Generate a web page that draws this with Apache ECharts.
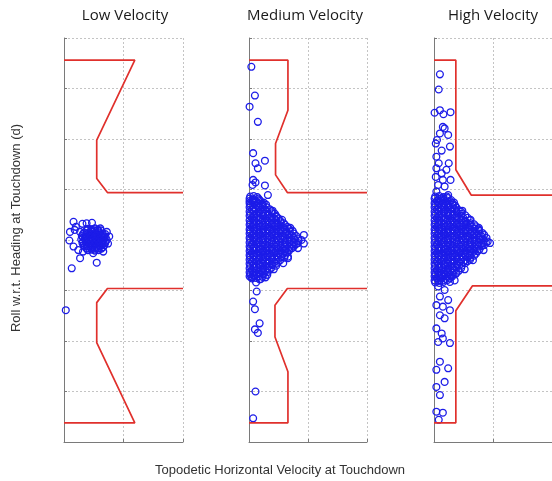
<!DOCTYPE html>
<html>
<head>
<meta charset="utf-8">
<script src="https://cdn.jsdelivr.net/npm/echarts@6/dist/echarts.min.js"></script>
<style>
  html, body { margin: 0; padding: 0; background: #ffffff; }
  #chart { width: 552px; height: 481px; }
</style>
</head>
<body>
<div id="chart"></div>
<script>
// Panel titles
const panelTitles = ['Low Velocity', 'Medium Velocity', 'High Velocity'];

// Touchdown samples: [horizontal velocity, roll w.r.t. heading]
const lowPoints = [
  [0.16,0.36],[0.20,0.26],[0.31,0.32],[0.38,0.33],[0.47,0.34],[0.10,0.16],[0.18,0.20],[0.27,0.16],
  [0.09,-0.01],[0.16,-0.13],[0.24,-0.20],[0.32,-0.23],[0.27,-0.36],[0.13,-0.56],[0.55,-0.45],
  [0.49,-0.26],[0.66,-0.23],[0.74,-0.07],[0.76,0.07],[0.72,0.16],[0.61,0.23],[0.03,-1.39],
  [0.40,0.22],[0.46,0.21],[0.52,0.23],[0.57,0.20],
  [0.34,0.15],[0.41,0.14],[0.47,0.16],[0.53,0.14],[0.59,0.15],[0.65,0.13],
  [0.30,0.08],[0.36,0.07],[0.43,0.09],[0.49,0.08],[0.56,0.07],[0.62,0.09],[0.68,0.07],
  [0.29,0.01],[0.35,0.02],[0.42,0.00],[0.48,0.01],[0.55,0.02],[0.61,0.00],[0.67,0.01],[0.72,0.00],
  [0.31,-0.06],[0.37,-0.05],[0.44,-0.07],[0.50,-0.06],[0.57,-0.05],[0.63,-0.07],[0.69,-0.06],
  [0.35,-0.13],[0.41,-0.12],[0.48,-0.14],[0.54,-0.13],[0.60,-0.12],[0.66,-0.14],
  [0.40,-0.20],[0.46,-0.19],[0.52,-0.21],[0.58,-0.20],
  [0.38,0.19],[0.45,0.18],[0.51,0.19],[0.58,0.18],[0.62,0.19],
  [0.32,0.12],[0.38,0.11],[0.45,0.12],[0.51,0.11],[0.58,0.12],[0.64,0.11],[0.69,0.12],
  [0.32,0.05],[0.38,0.04],[0.45,0.05],[0.51,0.04],[0.58,0.05],[0.64,0.04],[0.70,0.05],
  [0.32,-0.03],[0.38,-0.02],[0.45,-0.03],[0.51,-0.02],[0.58,-0.03],[0.64,-0.02],[0.70,-0.03],
  [0.33,-0.10],[0.38,-0.09],[0.45,-0.10],[0.51,-0.09],[0.58,-0.10],[0.64,-0.09],[0.68,-0.10],
  [0.38,-0.17],[0.45,-0.16],[0.51,-0.17],[0.58,-0.16],[0.63,-0.17]
];

const mediumPoints = [
  [0.04,3.43],[0.10,2.86],[0.01,2.64],[0.15,2.34],[0.07,1.72],[0.11,1.52],[0.27,1.57],[0.15,1.42],
  [0.07,1.19],[0.11,1.14],[0.27,1.08],[0.06,1.09],[0.32,0.89],[0.07,0.79],[0.18,0.79],
  [0.13,-1.02],[0.07,-1.22],[0.10,-1.37],[0.18,-1.65],[0.10,-1.77],[0.15,-1.84],[0.11,-3.00],[0.07,-3.53],
  [0.93,0.10],[0.93,-0.07],[0.66,-0.36],[0.58,-0.46],[0.04,-0.74],[0.18,-0.78],[0.46,0.46],
  [0.25,0.74],[0.40,0.58],[0.56,0.40],[0.70,0.24],[0.83,-0.16],[0.66,-0.33],[0.42,-0.58],[0.28,-0.74],[0.12,-0.84],
  [0.02,0.86],[0.08,0.87],[0.14,0.85],
  [0.01,0.77],[0.06,0.78],[0.12,0.76],[0.19,0.77],
  [0.02,0.69],[0.09,0.70],[0.16,0.68],[0.23,0.69],[0.29,0.70],
  [0.05,0.60],[0.12,0.61],[0.20,0.59],[0.27,0.60],[0.35,0.61],
  [0.02,0.52],[0.09,0.51],[0.17,0.53],[0.24,0.52],[0.32,0.51],[0.39,0.53],[0.44,0.52],
  [0.05,0.43],[0.13,0.44],[0.20,0.42],[0.28,0.43],[0.35,0.44],[0.43,0.42],[0.50,0.43],
  [0.02,0.34],[0.09,0.35],[0.17,0.33],[0.24,0.34],[0.32,0.35],[0.39,0.33],[0.47,0.34],[0.54,0.35],[0.59,0.33],
  [0.05,0.26],[0.13,0.25],[0.20,0.27],[0.28,0.26],[0.35,0.25],[0.43,0.27],[0.50,0.26],[0.58,0.25],[0.65,0.26],
  [0.02,0.17],[0.09,0.18],[0.17,0.16],[0.24,0.17],[0.32,0.18],[0.39,0.16],[0.47,0.17],[0.54,0.18],[0.62,0.16],[0.69,0.17],[0.74,0.18],
  [0.05,0.09],[0.13,0.08],[0.20,0.10],[0.28,0.09],[0.35,0.08],[0.43,0.10],[0.50,0.09],[0.58,0.08],[0.65,0.10],[0.73,0.09],[0.80,0.08],
  [0.02,0.00],[0.09,0.01],[0.17,-0.01],[0.24,0.00],[0.32,0.01],[0.39,-0.01],[0.47,0.00],[0.54,0.01],[0.62,-0.01],[0.69,0.00],[0.77,0.01],[0.84,-0.01],[0.89,0.00],
  [0.05,-0.09],[0.13,-0.08],[0.20,-0.10],[0.28,-0.09],[0.35,-0.08],[0.43,-0.10],[0.50,-0.09],[0.58,-0.08],[0.65,-0.10],[0.73,-0.09],[0.80,-0.08],
  [0.02,-0.17],[0.09,-0.16],[0.17,-0.18],[0.24,-0.17],[0.32,-0.16],[0.39,-0.18],[0.47,-0.17],[0.54,-0.16],[0.62,-0.18],[0.69,-0.17],[0.73,-0.16],
  [0.05,-0.26],[0.13,-0.27],[0.20,-0.25],[0.28,-0.26],[0.35,-0.27],[0.43,-0.25],[0.50,-0.26],[0.58,-0.27],[0.65,-0.25],
  [0.02,-0.34],[0.09,-0.33],[0.17,-0.35],[0.24,-0.34],[0.32,-0.33],[0.39,-0.35],[0.47,-0.34],[0.54,-0.33],[0.60,-0.35],
  [0.05,-0.43],[0.13,-0.42],[0.20,-0.44],[0.28,-0.43],[0.35,-0.42],[0.43,-0.44],[0.50,-0.43],
  [0.02,-0.51],[0.09,-0.52],[0.17,-0.50],[0.24,-0.51],[0.32,-0.52],[0.39,-0.50],[0.46,-0.51],
  [0.05,-0.60],[0.13,-0.59],[0.20,-0.61],[0.28,-0.60],[0.35,-0.59],
  [0.02,-0.68],[0.09,-0.69],[0.17,-0.67],[0.24,-0.68],[0.31,-0.69],
  [0.05,-0.76],[0.12,-0.75],[0.20,-0.77],
  [0.01,0.82],[0.08,0.81],[0.16,0.82],
  [0.01,0.73],[0.08,0.74],[0.16,0.73],[0.23,0.72],
  [0.01,0.65],[0.08,0.64],[0.16,0.65],[0.23,0.66],[0.30,0.65],
  [0.01,0.56],[0.08,0.57],[0.16,0.56],[0.23,0.55],[0.31,0.56],[0.38,0.57],
  [0.01,0.48],[0.08,0.47],[0.16,0.48],[0.23,0.49],[0.31,0.48],[0.38,0.47],[0.46,0.48],
  [0.01,0.39],[0.08,0.40],[0.16,0.39],[0.23,0.38],[0.31,0.39],[0.38,0.40],[0.46,0.39],[0.53,0.38],
  [0.01,0.30],[0.08,0.31],[0.16,0.30],[0.23,0.29],[0.31,0.30],[0.38,0.31],[0.46,0.30],[0.53,0.29],[0.61,0.30],
  [0.01,0.21],[0.08,0.22],[0.16,0.21],[0.23,0.20],[0.31,0.21],[0.38,0.22],[0.46,0.21],[0.53,0.20],[0.61,0.21],[0.68,0.22],
  [0.01,0.13],[0.08,0.12],[0.16,0.13],[0.23,0.14],[0.31,0.13],[0.38,0.12],[0.46,0.13],[0.53,0.14],[0.61,0.13],[0.68,0.12],[0.76,0.13],
  [0.01,0.04],[0.08,0.05],[0.16,0.04],[0.23,0.03],[0.31,0.04],[0.38,0.05],[0.46,0.04],[0.53,0.03],[0.61,0.04],[0.68,0.05],[0.76,0.04],[0.83,0.03],
  [0.01,-0.05],[0.08,-0.04],[0.16,-0.05],[0.23,-0.06],[0.31,-0.05],[0.38,-0.04],[0.46,-0.05],[0.53,-0.06],[0.61,-0.05],[0.68,-0.04],[0.76,-0.05],[0.83,-0.06],
  [0.01,-0.13],[0.08,-0.14],[0.16,-0.13],[0.23,-0.12],[0.31,-0.13],[0.38,-0.14],[0.46,-0.13],[0.53,-0.12],[0.61,-0.13],[0.68,-0.14],[0.76,-0.13],
  [0.01,-0.22],[0.08,-0.21],[0.16,-0.22],[0.23,-0.23],[0.31,-0.22],[0.38,-0.21],[0.46,-0.22],[0.53,-0.23],[0.61,-0.22],[0.68,-0.21],
  [0.01,-0.30],[0.08,-0.31],[0.16,-0.30],[0.23,-0.29],[0.31,-0.30],[0.38,-0.31],[0.46,-0.30],[0.53,-0.29],[0.61,-0.30],
  [0.01,-0.39],[0.08,-0.38],[0.16,-0.39],[0.23,-0.40],[0.31,-0.39],[0.38,-0.38],[0.46,-0.39],[0.53,-0.40],
  [0.01,-0.47],[0.08,-0.48],[0.16,-0.47],[0.23,-0.46],[0.31,-0.47],[0.38,-0.48],[0.46,-0.47],
  [0.01,-0.56],[0.08,-0.55],[0.16,-0.56],[0.23,-0.57],[0.31,-0.56],[0.38,-0.55],
  [0.01,-0.64],[0.08,-0.65],[0.16,-0.64],[0.23,-0.63],[0.31,-0.64],
  [0.01,-0.72],[0.08,-0.71],[0.16,-0.72],[0.23,-0.73]
];

const highPoints = [
  [0.10,3.28],[0.08,2.98],[0.01,2.52],[0.10,2.57],[0.16,2.49],[0.28,2.53],[0.15,2.24],[0.18,2.21],
  [0.10,2.11],[0.24,2.08],[0.03,1.91],[0.05,1.98],[0.27,1.85],[0.13,1.77],[0.04,1.65],[0.08,1.52],
  [0.25,1.52],[0.04,1.42],[0.13,1.32],[0.21,1.39],[0.03,1.25],[0.15,1.19],[0.28,1.19],[0.07,1.09],
  [0.18,1.06],[0.04,0.96],[0.24,0.89],[0.13,0.83],[0.29,0.79],
  [0.07,-0.92],[0.18,-0.99],[0.27,-0.83],[0.10,-1.12],[0.24,-1.19],[0.04,-1.29],[0.15,-1.32],[0.27,-1.39],
  [0.10,-1.49],[0.18,-1.55],[0.04,-1.75],[0.13,-1.85],[0.15,-1.95],[0.27,-2.04],[0.07,-2.02],[0.10,-2.41],
  [0.24,-2.54],[0.04,-2.57],[0.18,-2.81],[0.04,-2.91],[0.10,-3.07],[0.04,-3.40],[0.15,-3.42],[0.08,-3.56],
  [0.34,0.74],[0.48,0.58],[0.62,0.40],[0.76,0.24],[0.95,-0.06],[0.84,-0.20],[0.66,-0.40],[0.52,-0.58],[0.35,-0.80],
  [0.02,0.86],[0.09,0.87],[0.16,0.85],[0.22,0.86],
  [0.05,0.77],[0.12,0.78],[0.20,0.76],[0.27,0.77],
  [0.02,0.69],[0.09,0.70],[0.17,0.68],[0.24,0.69],[0.32,0.70],[0.36,0.68],
  [0.05,0.60],[0.13,0.61],[0.20,0.59],[0.28,0.60],[0.35,0.61],[0.42,0.59],
  [0.02,0.52],[0.09,0.51],[0.17,0.53],[0.24,0.52],[0.32,0.51],[0.39,0.53],[0.47,0.52],
  [0.05,0.43],[0.13,0.44],[0.20,0.42],[0.28,0.43],[0.35,0.44],[0.43,0.42],[0.50,0.43],[0.57,0.44],
  [0.02,0.34],[0.09,0.35],[0.17,0.33],[0.24,0.34],[0.32,0.35],[0.39,0.33],[0.47,0.34],[0.54,0.35],[0.62,0.33],
  [0.05,0.26],[0.13,0.25],[0.20,0.27],[0.28,0.26],[0.35,0.25],[0.43,0.27],[0.50,0.26],[0.58,0.25],[0.65,0.26],[0.71,0.27],
  [0.02,0.17],[0.09,0.18],[0.17,0.16],[0.24,0.17],[0.32,0.18],[0.39,0.16],[0.47,0.17],[0.54,0.18],[0.62,0.16],[0.69,0.17],[0.77,0.18],
  [0.05,0.09],[0.13,0.08],[0.20,0.10],[0.28,0.09],[0.35,0.08],[0.43,0.10],[0.50,0.09],[0.58,0.08],[0.65,0.10],[0.73,0.09],[0.80,0.08],[0.85,0.10],
  [0.02,0.00],[0.09,0.01],[0.17,-0.01],[0.24,0.00],[0.32,0.01],[0.39,-0.01],[0.47,0.00],[0.54,0.01],[0.62,-0.01],[0.69,0.00],[0.77,0.01],[0.84,-0.01],[0.91,-0.03],
  [0.05,-0.09],[0.13,-0.08],[0.20,-0.10],[0.28,-0.09],[0.35,-0.08],[0.43,-0.10],[0.50,-0.09],[0.58,-0.08],[0.65,-0.10],[0.73,-0.09],[0.80,-0.08],[0.85,-0.10],
  [0.02,-0.17],[0.09,-0.16],[0.17,-0.18],[0.24,-0.17],[0.32,-0.16],[0.39,-0.18],[0.47,-0.17],[0.54,-0.16],[0.62,-0.18],[0.69,-0.17],[0.77,-0.19],
  [0.05,-0.26],[0.13,-0.27],[0.20,-0.25],[0.28,-0.26],[0.35,-0.27],[0.43,-0.25],[0.50,-0.26],[0.58,-0.27],[0.65,-0.25],[0.71,-0.27],
  [0.02,-0.34],[0.09,-0.33],[0.17,-0.35],[0.24,-0.34],[0.32,-0.33],[0.39,-0.35],[0.47,-0.34],[0.54,-0.33],[0.62,-0.35],
  [0.05,-0.43],[0.13,-0.42],[0.20,-0.44],[0.28,-0.43],[0.35,-0.42],[0.43,-0.44],[0.50,-0.43],[0.57,-0.42],
  [0.02,-0.51],[0.09,-0.52],[0.17,-0.50],[0.24,-0.51],[0.32,-0.52],[0.39,-0.50],[0.47,-0.51],
  [0.05,-0.60],[0.13,-0.59],[0.20,-0.61],[0.28,-0.60],[0.35,-0.59],[0.42,-0.61],
  [0.02,-0.68],[0.09,-0.69],[0.17,-0.67],[0.24,-0.68],[0.32,-0.69],[0.37,-0.67],
  [0.05,-0.76],[0.12,-0.75],[0.20,-0.77],[0.27,-0.76],
  [0.02,-0.84],[0.09,-0.85],[0.16,-0.83],
  [0.01,0.82],[0.08,0.81],[0.16,0.82],[0.23,0.83],
  [0.01,0.73],[0.08,0.74],[0.16,0.73],[0.23,0.72],[0.31,0.73],
  [0.01,0.65],[0.08,0.64],[0.16,0.65],[0.23,0.66],[0.31,0.65],[0.38,0.64],
  [0.01,0.56],[0.08,0.57],[0.16,0.56],[0.23,0.55],[0.31,0.56],[0.38,0.57],[0.46,0.56],
  [0.01,0.48],[0.08,0.47],[0.16,0.48],[0.23,0.49],[0.31,0.48],[0.38,0.47],[0.46,0.48],[0.53,0.49],
  [0.01,0.39],[0.08,0.40],[0.16,0.39],[0.23,0.38],[0.31,0.39],[0.38,0.40],[0.46,0.39],[0.53,0.38],[0.61,0.39],
  [0.01,0.30],[0.08,0.31],[0.16,0.30],[0.23,0.29],[0.31,0.30],[0.38,0.31],[0.46,0.30],[0.53,0.29],[0.61,0.30],[0.68,0.31],
  [0.01,0.21],[0.08,0.22],[0.16,0.21],[0.23,0.20],[0.31,0.21],[0.38,0.22],[0.46,0.21],[0.53,0.20],[0.61,0.21],[0.68,0.22],[0.76,0.21],
  [0.01,0.13],[0.08,0.12],[0.16,0.13],[0.23,0.14],[0.31,0.13],[0.38,0.12],[0.46,0.13],[0.53,0.14],[0.61,0.13],[0.68,0.12],[0.76,0.13],[0.82,0.14],
  [0.01,0.04],[0.08,0.05],[0.16,0.04],[0.23,0.03],[0.31,0.04],[0.38,0.05],[0.46,0.04],[0.53,0.03],[0.61,0.04],[0.68,0.05],[0.76,0.04],[0.83,0.03],[0.89,0.04],
  [0.01,-0.05],[0.08,-0.04],[0.16,-0.05],[0.23,-0.06],[0.31,-0.05],[0.38,-0.04],[0.46,-0.05],[0.53,-0.06],[0.61,-0.05],[0.68,-0.04],[0.76,-0.05],[0.83,-0.06],[0.88,-0.05],
  [0.01,-0.13],[0.08,-0.14],[0.16,-0.13],[0.23,-0.12],[0.31,-0.13],[0.38,-0.14],[0.46,-0.13],[0.53,-0.12],[0.61,-0.13],[0.68,-0.14],[0.76,-0.13],[0.81,-0.12],
  [0.01,-0.22],[0.08,-0.21],[0.16,-0.22],[0.23,-0.23],[0.31,-0.22],[0.38,-0.21],[0.46,-0.22],[0.53,-0.23],[0.61,-0.22],[0.68,-0.21],[0.74,-0.22],
  [0.01,-0.30],[0.08,-0.31],[0.16,-0.30],[0.23,-0.29],[0.31,-0.30],[0.38,-0.31],[0.46,-0.30],[0.53,-0.29],[0.61,-0.30],[0.68,-0.31],
  [0.01,-0.39],[0.08,-0.38],[0.16,-0.39],[0.23,-0.40],[0.31,-0.39],[0.38,-0.38],[0.46,-0.39],[0.53,-0.40],[0.61,-0.39],
  [0.01,-0.47],[0.08,-0.48],[0.16,-0.47],[0.23,-0.46],[0.31,-0.47],[0.38,-0.48],[0.46,-0.47],[0.53,-0.46],
  [0.01,-0.56],[0.08,-0.55],[0.16,-0.56],[0.23,-0.57],[0.31,-0.56],[0.38,-0.55],[0.46,-0.56],
  [0.01,-0.64],[0.08,-0.65],[0.16,-0.64],[0.23,-0.63],[0.31,-0.64],[0.38,-0.65],
  [0.01,-0.72],[0.08,-0.71],[0.16,-0.72],[0.23,-0.73],[0.31,-0.72],
  [0.01,-0.80],[0.08,-0.81],[0.16,-0.80],[0.23,-0.79]
];

// Acceptance envelopes (upper and lower boundaries)
const lowUpper    = [[0,3.56],[1.19,3.56],[0.55,1.98],[0.55,1.22],[0.73,0.94],[2,0.94]];
const lowLower    = [[2,-0.96],[0.73,-0.96],[0.55,-1.24],[0.55,-2.03],[1.19,-3.62],[0,-3.62]];
const mediumUpper = [[0,3.56],[0.66,3.56],[0.66,2.57],[0.45,1.91],[0.45,1.29],[0.65,0.94],[2,0.94]];
const mediumLower = [[2,-0.96],[0.65,-0.96],[0.44,-1.29],[0.44,-1.92],[0.66,-2.61],[0.66,-3.62],[0,-3.62]];
const highUpper   = [[0,3.56],[0.37,3.56],[0.37,1.39],[0.63,0.89],[2,0.89]];
const highLower   = [[2,-0.91],[0.65,-0.91],[0.37,-1.40],[0.37,-3.62],[0,-3.62]];

// Axis ranges and tick spacing
const xRange = [0, 2], xStep = 1;
const yRange = [-4, 4], yStep = 1;

const pointSets = [lowPoints, mediumPoints, highPoints];
const envelopes = [[lowUpper, lowLower], [mediumUpper, mediumLower], [highUpper, highLower]];

const panelLayout = [
  { left: 64, width: 119 },
  { left: 249, width: 118 },
  { left: 434, width: 118 }
];

const axisColor = '#7a7a7a';
const gridColor = '#c4c4c4';

const grids = panelLayout.map(p => ({ left: p.left, width: p.width, top: 38, height: 404 }));

const xAxes = panelLayout.map((p, i) => ({
  type: 'value', gridIndex: i, min: xRange[0], max: xRange[1], interval: xStep,
  axisLine: { show: true, onZero: false, lineStyle: { color: axisColor, width: 1 } },
  axisTick: { show: true, inside: true, length: 3, lineStyle: { color: axisColor } },
  axisLabel: { show: false },
  splitLine: { show: true, lineStyle: { color: gridColor, type: [2, 2], width: 1 } }
}));

const yAxes = panelLayout.map((p, i) => ({
  type: 'value', gridIndex: i, min: yRange[0], max: yRange[1], interval: yStep,
  axisLine: { show: true, onZero: false, lineStyle: { color: axisColor, width: 1 } },
  axisTick: { show: true, inside: true, length: 3, lineStyle: { color: axisColor } },
  axisLabel: { show: false },
  splitLine: { show: true, lineStyle: { color: gridColor, type: [2, 2], width: 1 } }
}));

const series = [];
pointSets.forEach((pts, i) => {
  series.push({
    type: 'scatter', xAxisIndex: i, yAxisIndex: i, data: pts,
    symbol: 'circle', symbolSize: 6.8, clip: false,
    itemStyle: { color: 'rgba(0,0,0,0)', borderColor: '#1c1ce8', borderWidth: 1.3, opacity: 1 },
    emphasis: { disabled: true }
  });
  envelopes[i].forEach(path => {
    series.push({
      type: 'line', xAxisIndex: i, yAxisIndex: i, data: path,
      showSymbol: false, symbol: 'none',
      lineStyle: { color: '#e0302c', width: 1.7 },
      emphasis: { disabled: true }
    });
  });
});

const titleCenters = [125, 305, 493];
const graphic = panelTitles.map((t, i) => ({
  type: 'text', x: titleCenters[i], y: 16,
  style: { text: t, font: '15px "Open Sans"', fill: '#1a1a1a', textAlign: 'center', textVerticalAlign: 'middle' }
}));
graphic.push({
  type: 'text', x: 280, y: 470,
  style: { text: 'Topodetic Horizontal Velocity at Touchdown', font: '13px "Liberation Sans"', fill: '#333333', textAlign: 'center', textVerticalAlign: 'middle' }
});
graphic.push({
  type: 'text', x: 16, y: 228, rotation: Math.PI / 2,
  style: { text: 'Roll w.r.t. Heading at Touchdown (d)', font: '13px "Liberation Sans"', fill: '#333333', textAlign: 'center', textVerticalAlign: 'middle' }
});

const chart = echarts.init(document.getElementById('chart'), null, { renderer: 'canvas' });
chart.setOption({
  animation: false,
  backgroundColor: '#ffffff',
  grid: grids,
  xAxis: xAxes,
  yAxis: yAxes,
  series: series,
  graphic: graphic
});
</script>
</body>
</html>
